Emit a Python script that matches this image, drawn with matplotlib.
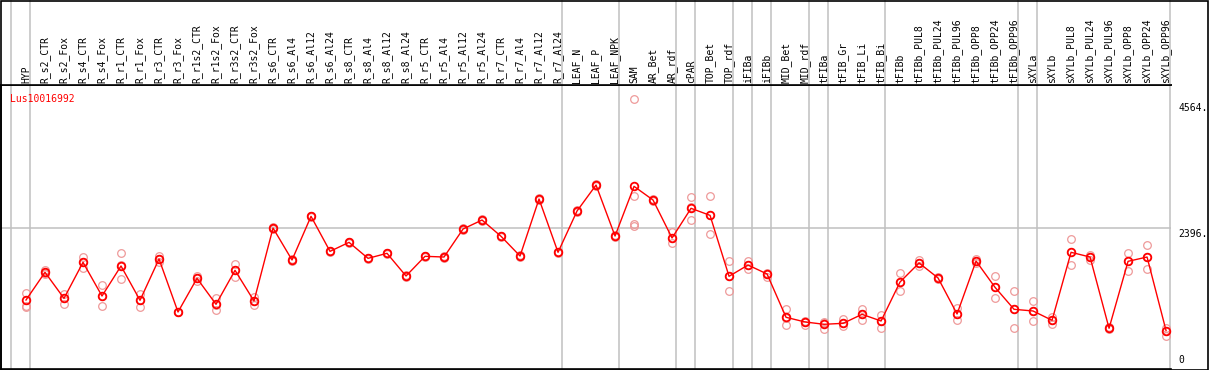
import matplotlib
matplotlib.use("Agg")
import matplotlib.transforms as mtransforms
from matplotlib import pyplot as plt
from matplotlib.patches import Rectangle

# Sample names along the top header
samples = [
    "HYP",
    "R_s2_CTR", "R_s2_Fox", "R_s4_CTR", "R_s4_Fox", "R_r1_CTR", "R_r1_Fox",
    "R_r3_CTR", "R_r3_Fox", "R_r1s2_CTR", "R_r1s2_Fox", "R_r3s2_CTR", "R_r3s2_Fox",
    "R_s6_CTR", "R_s6_Al4", "R_s6_Al12", "R_s6_Al24",
    "R_s8_CTR", "R_s8_Al4", "R_s8_Al12", "R_s8_Al24",
    "R_r5_CTR", "R_r5_Al4", "R_r5_Al12", "R_r5_Al24",
    "R_r7_CTR", "R_r7_Al4", "R_r7_Al12", "R_r7_Al24",
    "LEAF_N", "LEAF_P", "LEAF_NPK",
    "SAM", "AR_Bet", "AR_rdf", "cPAR", "TOP_Bet", "TOP_rdf",
    "iFIBa", "iFIBb", "MID_Bet", "MID_rdf",
    "tFIBa", "tFIB_Gr", "tFIB_Li", "tFIB_Bi",
    "tFIBb", "tFIBb_PUL8", "tFIBb_PUL24", "tFIBb_PUL96",
    "tFIBb_OPP8", "tFIBb_OPP24", "tFIBb_OPP96",
    "sXYLa", "sXYLb", "sXYLb_PUL8", "sXYLb_PUL24", "sXYLb_PUL96",
    "sXYLb_OPP8", "sXYLb_OPP24", "sXYLb_OPP96",
]

# Mean expression per sample
means = [
    1189,
    1653, 1217, 1820, 1256, 1759, 1184,
    1876, 988, 1552, 1117, 1686, 1172,
    2395, 1859, 2591, 2004,
    2155, 1887, 1971, 1591,
    1921, 1909, 2378, 2529,
    2256, 1926, 2881, 1988,
    2680, 3115, 2261,
    3093, 2864, 2228, 2725, 2607, 1586,
    1775, 1625, 899, 821,
    782, 798, 949, 837,
    1491, 1809, 1558, 955,
    1842, 1401, 1033,
    1005, 849, 1988, 1909, 715,
    1837, 1909, 676,
]

# Individual replicates per sample
replicates = [
    [1311, 1089, 1067],
    [1690, 1640, 1630], [1295, 1230, 1128], [1915, 1825, 1720],
    [1435, 1250, 1083], [1971, 1770, 1535], [1295, 1190, 1066],
    [1932, 1880, 1820], [995, 988, 980], [1590, 1552, 1515],
    [1228, 1110, 1016], [1798, 1690, 1569], [1239, 1172, 1105],
    [2405, 2395, 2385], [1870, 1859, 1850], [2600, 2591, 2582], [2012, 2004, 1995],
    [2165, 2155, 2145], [1897, 1887, 1877], [1980, 1971, 1962], [1600, 1591, 1582],
    [1930, 1921, 1912], [1918, 1909, 1900], [2387, 2378, 2369], [2538, 2529, 2520],
    [2265, 2256, 2247], [1935, 1926, 1917], [2890, 2881, 2872], [1997, 1988, 1979],
    [2690, 2680, 2670], [3125, 3115, 3105], [2270, 2261, 2252],
    [4564, 2925, 2456, 2429], [2880, 2864, 2840], [2323, 2225, 2138],
    [2909, 2740, 2524], [2925, 2607, 2289], [1837, 1586, 1334],
    [1842, 1770, 1714], [1647, 1625, 1580], [1038, 885, 776], [845, 821, 776],
    [826, 800, 698], [865, 798, 760], [1044, 950, 849], [943, 840, 726],
    [1636, 1491, 1345], [1865, 1809, 1765], [1575, 1558, 1540], [1050, 955, 854],
    [1870, 1842, 1815], [1586, 1401, 1217], [1346, 1033, 726],
    [1172, 1005, 832], [910, 849, 787], [2205, 1988, 1770], [1940, 1909, 1860],
    [730, 715, 700],
    [1971, 1837, 1680], [2105, 1909, 1703], [726, 676, 581],
]

# Index of the last sample in each group (-1 is the left edge)
group_ends = [-1, 0, 28, 31, 34, 35, 37, 38, 39, 41, 42, 45, 52, 53, 60]

gene = "Lus10016992"
y_max = 4564
y_mid = 2396

W, H = 1209, 370
GRAY = "#c0c0c0"
FONT = "DejaVu Sans Mono"

fig = plt.figure(figsize=(W / 100, H / 100), dpi=100)

# pixel layout
left_px, right_px = 1, 1171
header_px, bottom_px = 85, 369
ax = fig.add_axes([left_px / W, (H - bottom_px) / H,
                   (right_px - left_px) / W, (bottom_px - header_px) / H])
hax = fig.add_axes([left_px / W, (H - header_px) / H,
                    (right_px - left_px) / W, header_px / H])

x = list(range(len(samples)))
xlim = (-1.316, 60.26)
for a in (ax, hax):
    a.set_xlim(*xlim)
    a.set_xticks([])
    a.set_yticks([])
ax.set_ylim(33, 4791)
hax.set_ylim(85, 0)

for name, spine in ax.spines.items():
    spine.set_visible(name in ("left", "bottom", "top"))
    spine.set_linewidth(1.2)
for name, spine in hax.spines.items():
    spine.set_visible(name == "bottom")
    spine.set_linewidth(1.2)

# group separators
for end in group_ends:
    for a in (ax, hax):
        a.axvline(end + 0.23, color=GRAY, lw=1.1, zorder=1)
ax.axhline(y_mid, color=GRAY, lw=1.1, zorder=1)

# replicate points
for i, reps in enumerate(replicates):
    ax.plot([i] * len(reps), reps, linestyle="none", marker="o", markersize=5.5,
            markerfacecolor="none", markeredgecolor="#ee9a9a", markeredgewidth=0.9,
            zorder=2)

# mean line
ax.plot(x, means, color="red", lw=1.0, marker="o", markersize=5.5,
        markerfacecolor="none", markeredgecolor="red", markeredgewidth=1.3,
        zorder=3)

# header labels
for i, name in enumerate(samples):
    hax.text(i, 83, name, rotation=90, ha="center", va="bottom",
             fontsize=7, family=FONT, color="black")

ax.text(9 / (right_px - left_px), 4564, gene, transform=mtransforms.blended_transform_factory(
    ax.transAxes, ax.transData), ha="left", va="center", fontsize=7, family=FONT,
    color="red")

# right hand value labels
trans = mtransforms.blended_transform_factory(ax.transAxes, ax.transData)
ax.annotate(f"{y_max}.", (1.006, y_max), xycoords=trans, xytext=(0, -3),
            textcoords="offset points", ha="left", va="top", fontsize=7,
            family=FONT, annotation_clip=False)
ax.annotate(f"{y_mid}.", (1.006, y_mid), xycoords=trans, xytext=(0, -1),
            textcoords="offset points", ha="left", va="top", fontsize=7,
            family=FONT, annotation_clip=False)
ax.annotate("0", (1.006, 0), xycoords=trans, xytext=(0, 4),
            textcoords="offset points", ha="left", va="bottom", fontsize=7,
            family=FONT, annotation_clip=False)

# outer frame
fig.patches.append(Rectangle((0.5 / W, 0.5 / H), (W - 1.5) / W, (H - 1.5) / H,
                             transform=fig.transFigure, fill=False,
                             edgecolor="black", lw=1.2))

fig.savefig("out.png", dpi=100)
